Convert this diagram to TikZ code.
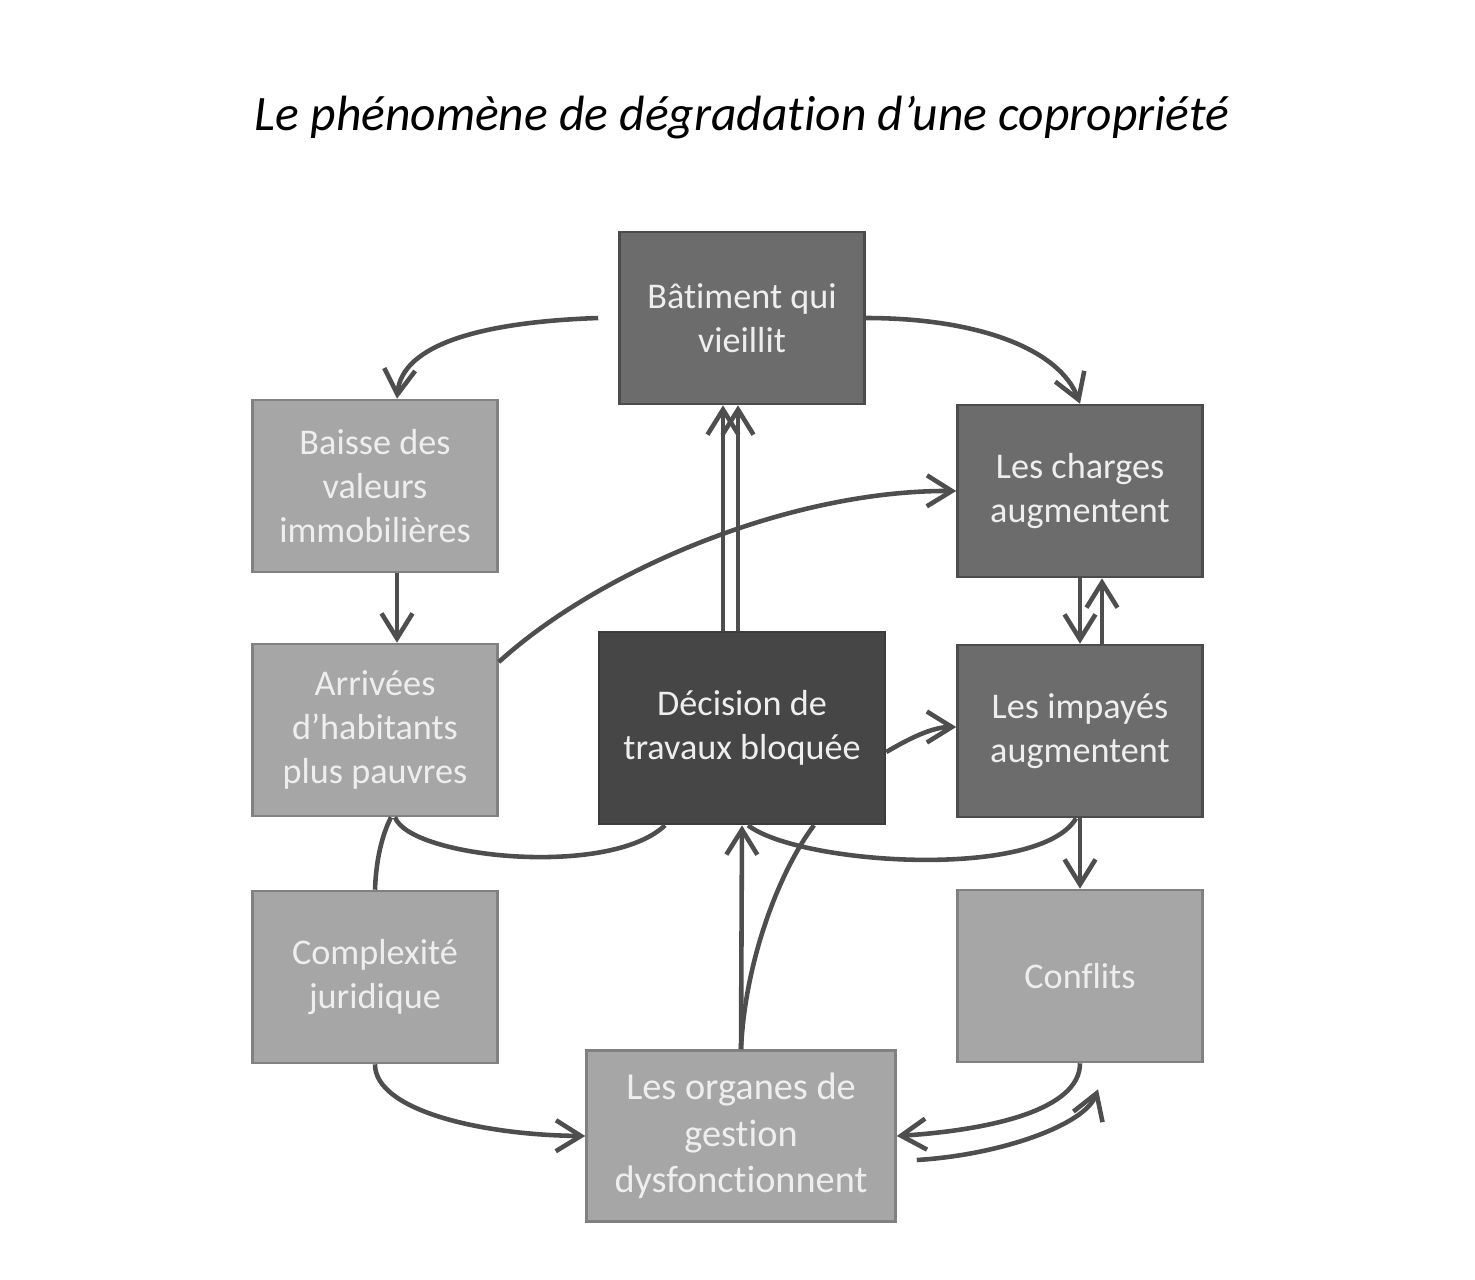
\documentclass[tikz,border=0pt]{standalone}
\usepackage{fontspec}
\setmainfont{Carlito}[Ligatures=NoCommon]
\usepackage{tikz}
\usetikzlibrary{positioning, arrows.meta, calc}
\definecolor{boxlight}{RGB}{166, 166, 166}
\definecolor{boxmid}{RGB}{108, 108, 108}
\definecolor{boxdark}{RGB}{70, 70, 70}
\definecolor{linegray}{RGB}{78, 78, 78}
\definecolor{textwhite}{RGB}{238, 238, 238}

\begin{document}
\begin{tikzpicture}[x=0.02cm, y=-0.02cm,
  box/.style={draw, line width=1.5pt, align=center, text=textwhite, inner sep=2pt,
    minimum width=4.9cm, minimum height=3.44cm, font=\fontsize{20.6}{25}\selectfont},
  lightbox/.style={box, fill=boxlight, draw=boxlight!78!black},
  midbox/.style={box, fill=boxmid, draw=boxmid!70!black},
  darkbox/.style={box, fill=boxdark, draw=boxdark!85!black},
  arr/.style={draw=linegray, line width=2.6pt, -{Straight Barb[length=0.5cm, width=0.62cm]}},
  link/.style={draw=linegray, line width=2.6pt}
]
    \useasboundingbox (0,0) rectangle (1475,1279);

    \node (title) at (742,118) {\fontsize{28.2}{34}\selectfont\itshape Le phénomène de dégradation d’une copropriété};

    \node[midbox] (batiment) at (742,318) {Bâtiment qui\\vieillit};
    \node[lightbox] (baisse) at (375,486) {Baisse des\\valeurs\\immobilières};
    \node[midbox] (charges) at (1080,491) {Les charges\\augmentent};
    \node[lightbox] (arrivees) at (375,730) {Arrivées\\d’habitants\\plus pauvres};
    \node[darkbox, minimum width=5.72cm, minimum height=3.84cm] (decision) at (742,728) {Décision de\\travaux bloquée};
    \node[midbox] (impayes) at (1080,731) {Les impayés\\augmentent};
    \node[lightbox] (complexite) at (375,977) {Complexité\\juridique};
    \node[lightbox] (conflits) at (1080,976) {Conflits};
    \node[lightbox, minimum width=6.18cm, minimum height=3.42cm, font=\fontsize{21.8}{26.6}\selectfont] (organes) at (741,1136) {Les organes de\\gestion\\dysfonctionnent};

    \coordinate (batimentL) at ($(batiment.west)+(-20,0)$);
    \coordinate (organesR) at ($(organes.east)+(20,24)$);
    \coordinate (conflitsB) at ($(conflits.south)+(18,26)$);

    \draw[arr] (batimentL) .. controls (480,322) and (402,345) .. ($(baisse.north)+(22,0)$);
    \draw[arr] (batiment.east) .. controls (980,318) and (1060,350) .. (charges.north);
    \draw[arr] ($(decision.north)+(-19,0)$) -- ($(batiment.south)+(-19,0)$);
    \draw[arr] ($(decision.north)+(-4,0)$) -- ($(batiment.south)+(-4,0)$);
    \draw[arr] ($(baisse.south)+(22,0)$) -- ($(arrivees.north)+(22,0)$);
    \draw[arr] ($(arrivees.east)+(0,-68)$) .. controls (600,570) and (790,490) .. (charges.west);
    \draw[arr] (charges.south) -- (impayes.north);
    \draw[arr] ($(impayes.north)+(22,0)$) -- ($(charges.south)+(22,0)$);
    \draw[arr] ($(decision.east)+(0,24)$) .. controls (915,735) and (935,727) .. ($(impayes.west)+(0,-4)$);
    \draw[link] ($(arrivees.south)+(16,0)$) .. controls (382,835) and (376,860) .. (complexite.north);
    \draw[link] ($(arrivees.south)+(20,0)$) .. controls (410,858) and (610,878) .. ($(decision.south)+(-77,0)$);
    \draw[arr] (organes.north) -- (decision.south);
    \draw[link] (organes.north) .. controls (745,960) and (780,870) .. ($(decision.south)+(72,0)$);
    \draw[link] ($(decision.south)+(6,0)$) .. controls (800,865) and (1040,880) .. ($(impayes.south)+(-4,0)$);
    \draw[arr] (impayes.south) -- (conflits.north);
    \draw[arr] (complexite.south) .. controls (375,1110) and (480,1135) .. (organes.west);
    \draw[arr] (conflits.south) .. controls (1080,1110) and (990,1130) .. (organes.east);
    \draw[arr] (organesR) .. controls (1000,1155) and (1085,1125) .. (conflitsB);
\end{tikzpicture}
\end{document}
